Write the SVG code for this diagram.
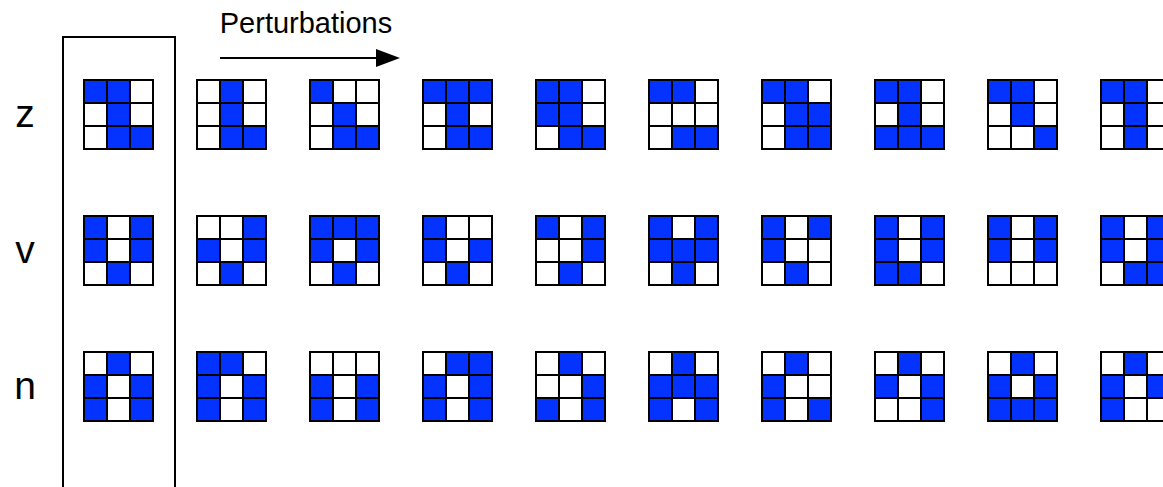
<svg xmlns="http://www.w3.org/2000/svg" xmlns:xlink="http://www.w3.org/1999/xlink" width="1163" height="487" viewBox="0 0 1163 487">
<style>
.lbl{font-family:"Liberation Sans",Arial,sans-serif;fill:#000}
.bg{fill:#fff}
.b{fill:#0433ff}
.gl{fill:none;stroke:#000;stroke-width:2}
</style>
<defs>
<rect id="bgc" class="bg" width="69" height="69"/>
<rect id="c" class="b" width="23" height="23"/>
<path id="gl" class="gl" d="M0 0H69V69H0Z M23 0V69 M46 0V69 M0 23H69 M0 46H69"/>
<marker id="ah" markerWidth="24" markerHeight="18" refX="0" refY="9" orient="auto" markerUnits="userSpaceOnUse"><path d="M0 0L24 9L0 18Z" fill="#000"/></marker>
</defs>
<rect width="1163" height="487" fill="#fff"/>
<path id="frame" d="M63 490V37H175V490" fill="none" stroke="#000" stroke-width="2"/>
<text class="lbl" x="306" y="33" font-size="29" text-anchor="middle">Perturbations</text>
<text class="lbl" x="25" y="127" font-size="39" text-anchor="middle">z</text>
<text class="lbl" x="25" y="263" font-size="39" text-anchor="middle">v</text>
<text class="lbl" x="25" y="399" font-size="39" text-anchor="middle">n</text>
<g id="connectors">
<path d="M220 58H376" stroke="#000" stroke-width="2" fill="none" marker-end="url(#ah)"/>
</g>
<!-- row z -->
<g id="z0" transform="translate(84,80)"><use href="#bgc"/><use href="#c" x="0" y="0"/><use href="#c" x="23" y="0"/><use href="#c" x="23" y="23"/><use href="#c" x="23" y="46"/><use href="#c" x="46" y="46"/><use href="#gl"/></g>
<g id="z1" transform="translate(197,80)"><use href="#bgc"/><use href="#c" x="23" y="0"/><use href="#c" x="23" y="23"/><use href="#c" x="23" y="46"/><use href="#c" x="46" y="46"/><use href="#gl"/></g>
<g id="z2" transform="translate(310,80)"><use href="#bgc"/><use href="#c" x="0" y="0"/><use href="#c" x="23" y="23"/><use href="#c" x="23" y="46"/><use href="#c" x="46" y="46"/><use href="#gl"/></g>
<g id="z3" transform="translate(423,80)"><use href="#bgc"/><use href="#c" x="0" y="0"/><use href="#c" x="23" y="0"/><use href="#c" x="46" y="0"/><use href="#c" x="23" y="23"/><use href="#c" x="23" y="46"/><use href="#c" x="46" y="46"/><use href="#gl"/></g>
<g id="z4" transform="translate(536,80)"><use href="#bgc"/><use href="#c" x="0" y="0"/><use href="#c" x="23" y="0"/><use href="#c" x="0" y="23"/><use href="#c" x="23" y="23"/><use href="#c" x="23" y="46"/><use href="#c" x="46" y="46"/><use href="#gl"/></g>
<g id="z5" transform="translate(649,80)"><use href="#bgc"/><use href="#c" x="0" y="0"/><use href="#c" x="23" y="0"/><use href="#c" x="23" y="46"/><use href="#c" x="46" y="46"/><use href="#gl"/></g>
<g id="z6" transform="translate(762,80)"><use href="#bgc"/><use href="#c" x="0" y="0"/><use href="#c" x="23" y="0"/><use href="#c" x="23" y="23"/><use href="#c" x="46" y="23"/><use href="#c" x="23" y="46"/><use href="#c" x="46" y="46"/><use href="#gl"/></g>
<g id="z7" transform="translate(875,80)"><use href="#bgc"/><use href="#c" x="0" y="0"/><use href="#c" x="23" y="0"/><use href="#c" x="23" y="23"/><use href="#c" x="0" y="46"/><use href="#c" x="23" y="46"/><use href="#c" x="46" y="46"/><use href="#gl"/></g>
<g id="z8" transform="translate(988,80)"><use href="#bgc"/><use href="#c" x="0" y="0"/><use href="#c" x="23" y="0"/><use href="#c" x="23" y="23"/><use href="#c" x="46" y="46"/><use href="#gl"/></g>
<g id="z9" transform="translate(1101,80)"><use href="#bgc"/><use href="#c" x="0" y="0"/><use href="#c" x="23" y="0"/><use href="#c" x="23" y="23"/><use href="#c" x="23" y="46"/><use href="#gl"/></g>
<!-- row v -->
<g id="v0" transform="translate(84,216)"><use href="#bgc"/><use href="#c" x="0" y="0"/><use href="#c" x="46" y="0"/><use href="#c" x="0" y="23"/><use href="#c" x="46" y="23"/><use href="#c" x="23" y="46"/><use href="#gl"/></g>
<g id="v1" transform="translate(197,216)"><use href="#bgc"/><use href="#c" x="46" y="0"/><use href="#c" x="0" y="23"/><use href="#c" x="46" y="23"/><use href="#c" x="23" y="46"/><use href="#gl"/></g>
<g id="v2" transform="translate(310,216)"><use href="#bgc"/><use href="#c" x="0" y="0"/><use href="#c" x="23" y="0"/><use href="#c" x="46" y="0"/><use href="#c" x="0" y="23"/><use href="#c" x="46" y="23"/><use href="#c" x="23" y="46"/><use href="#gl"/></g>
<g id="v3" transform="translate(423,216)"><use href="#bgc"/><use href="#c" x="0" y="0"/><use href="#c" x="0" y="23"/><use href="#c" x="46" y="23"/><use href="#c" x="23" y="46"/><use href="#gl"/></g>
<g id="v4" transform="translate(536,216)"><use href="#bgc"/><use href="#c" x="0" y="0"/><use href="#c" x="46" y="0"/><use href="#c" x="46" y="23"/><use href="#c" x="23" y="46"/><use href="#gl"/></g>
<g id="v5" transform="translate(649,216)"><use href="#bgc"/><use href="#c" x="0" y="0"/><use href="#c" x="46" y="0"/><use href="#c" x="0" y="23"/><use href="#c" x="23" y="23"/><use href="#c" x="46" y="23"/><use href="#c" x="23" y="46"/><use href="#gl"/></g>
<g id="v6" transform="translate(762,216)"><use href="#bgc"/><use href="#c" x="0" y="0"/><use href="#c" x="46" y="0"/><use href="#c" x="0" y="23"/><use href="#c" x="23" y="46"/><use href="#gl"/></g>
<g id="v7" transform="translate(875,216)"><use href="#bgc"/><use href="#c" x="0" y="0"/><use href="#c" x="46" y="0"/><use href="#c" x="0" y="23"/><use href="#c" x="46" y="23"/><use href="#c" x="0" y="46"/><use href="#c" x="23" y="46"/><use href="#gl"/></g>
<g id="v8" transform="translate(988,216)"><use href="#bgc"/><use href="#c" x="0" y="0"/><use href="#c" x="46" y="0"/><use href="#c" x="0" y="23"/><use href="#c" x="46" y="23"/><use href="#gl"/></g>
<g id="v9" transform="translate(1101,216)"><use href="#bgc"/><use href="#c" x="0" y="0"/><use href="#c" x="46" y="0"/><use href="#c" x="0" y="23"/><use href="#c" x="46" y="23"/><use href="#c" x="23" y="46"/><use href="#c" x="46" y="46"/><use href="#gl"/></g>
<!-- row n -->
<g id="n0" transform="translate(84,352)"><use href="#bgc"/><use href="#c" x="23" y="0"/><use href="#c" x="0" y="23"/><use href="#c" x="46" y="23"/><use href="#c" x="0" y="46"/><use href="#c" x="46" y="46"/><use href="#gl"/></g>
<g id="n1" transform="translate(197,352)"><use href="#bgc"/><use href="#c" x="0" y="0"/><use href="#c" x="23" y="0"/><use href="#c" x="0" y="23"/><use href="#c" x="46" y="23"/><use href="#c" x="0" y="46"/><use href="#c" x="46" y="46"/><use href="#gl"/></g>
<g id="n2" transform="translate(310,352)"><use href="#bgc"/><use href="#c" x="0" y="23"/><use href="#c" x="46" y="23"/><use href="#c" x="0" y="46"/><use href="#c" x="46" y="46"/><use href="#gl"/></g>
<g id="n3" transform="translate(423,352)"><use href="#bgc"/><use href="#c" x="23" y="0"/><use href="#c" x="46" y="0"/><use href="#c" x="0" y="23"/><use href="#c" x="46" y="23"/><use href="#c" x="0" y="46"/><use href="#c" x="46" y="46"/><use href="#gl"/></g>
<g id="n4" transform="translate(536,352)"><use href="#bgc"/><use href="#c" x="23" y="0"/><use href="#c" x="46" y="23"/><use href="#c" x="0" y="46"/><use href="#c" x="46" y="46"/><use href="#gl"/></g>
<g id="n5" transform="translate(649,352)"><use href="#bgc"/><use href="#c" x="23" y="0"/><use href="#c" x="0" y="23"/><use href="#c" x="23" y="23"/><use href="#c" x="46" y="23"/><use href="#c" x="0" y="46"/><use href="#c" x="46" y="46"/><use href="#gl"/></g>
<g id="n6" transform="translate(762,352)"><use href="#bgc"/><use href="#c" x="23" y="0"/><use href="#c" x="0" y="23"/><use href="#c" x="0" y="46"/><use href="#c" x="46" y="46"/><use href="#gl"/></g>
<g id="n7" transform="translate(875,352)"><use href="#bgc"/><use href="#c" x="23" y="0"/><use href="#c" x="0" y="23"/><use href="#c" x="46" y="23"/><use href="#c" x="46" y="46"/><use href="#gl"/></g>
<g id="n8" transform="translate(988,352)"><use href="#bgc"/><use href="#c" x="23" y="0"/><use href="#c" x="0" y="23"/><use href="#c" x="46" y="23"/><use href="#c" x="0" y="46"/><use href="#c" x="23" y="46"/><use href="#c" x="46" y="46"/><use href="#gl"/></g>
<g id="n9" transform="translate(1101,352)"><use href="#bgc"/><use href="#c" x="23" y="0"/><use href="#c" x="0" y="23"/><use href="#c" x="46" y="23"/><use href="#c" x="0" y="46"/><use href="#gl"/></g>
</svg>
